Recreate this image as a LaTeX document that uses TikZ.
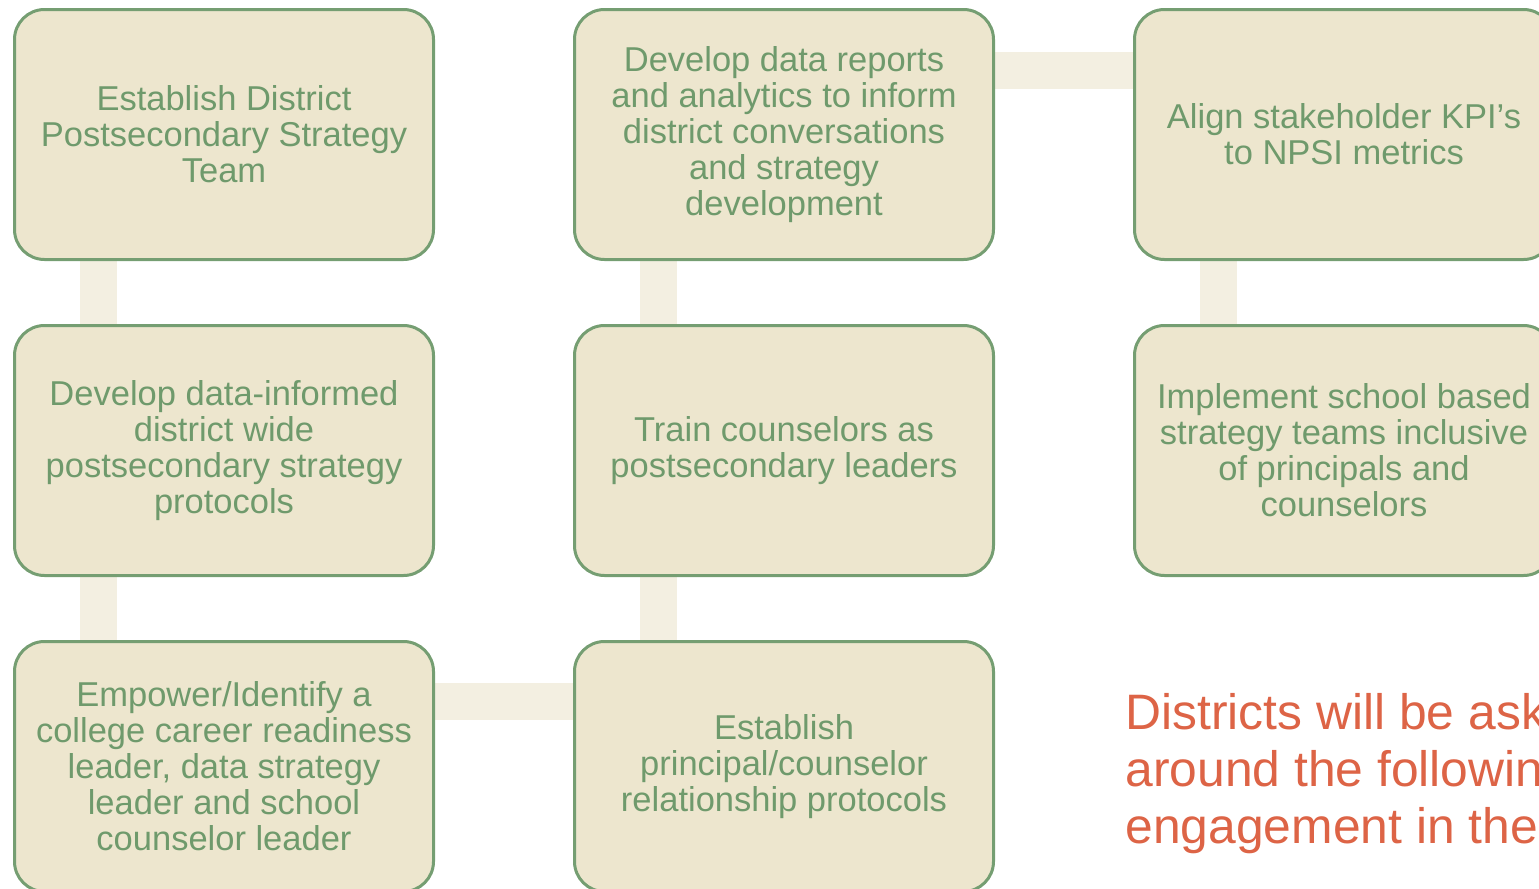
\documentclass[tikz,border=0pt]{standalone}
\usepackage{fontspec}
\setmainfont{Liberation Sans}
\usetikzlibrary{positioning,backgrounds}

\definecolor{boxfill}{RGB}{237,230,206}
\definecolor{boxline}{RGB}{117,158,114}
\definecolor{boxtext}{RGB}{111,154,108}
\definecolor{linkfill}{RGB}{243,239,225}
\definecolor{asktext}{RGB}{221,100,70}

\tikzset{
  stepbox/.style={draw=boxline, line width=1.5pt, fill=boxfill, rounded corners=15pt,
    minimum width=209.5pt, minimum height=125pt, inner sep=0pt, align=center,
    text=boxtext, font=\fontsize{17.25}{18}\selectfont},
  link/.style={draw=linkfill, line width=18.5pt}
}

\begin{document}
\begin{tikzpicture}[node distance={158pt and 280pt},on grid]
\clip (0,0) rectangle (769.5pt,-444.5pt);

\node[stepbox] (team) at (112pt,-67.25pt) {Establish District\\Postsecondary Strategy\\Team};
\node[stepbox] (protocols) [below=of team] {Develop data-informed\\district wide\\postsecondary strategy\\protocols};
\node[stepbox] (leaders) [below=of protocols] {Empower/Identify a\\college career readiness\\leader, data strategy\\leader and school\\counselor leader};
\node[stepbox] (relation) [right=of leaders] {Establish\\principal/counselor\\relationship protocols};
\node[stepbox] (train) [above=of relation] {Train counselors as\\postsecondary leaders};
\node[stepbox] (reports) [above=of train] {Develop data reports\\and analytics to inform\\district conversations\\and strategy\\development};
\node[stepbox] (kpi) [right=of reports] {Align stakeholder KPI’s\\to NPSI metrics};
\node[stepbox] (school) [below=of kpi] {Implement school based\\strategy teams inclusive\\of principals and\\counselors};

\node[anchor=base west, align=left, inner sep=0pt, text=asktext, font=\fontsize{24.9}{28.4}\selectfont]
  (ask) at (562.5pt,-421.5pt) {Districts will be asked to\\around the following\\engagement in the NPSI};

\begin{scope}[on background layer]
\path[link]
([xshift=-63pt]team.center) edge ([xshift=-63pt]protocols.center)
([xshift=-63pt]protocols.center) edge ([xshift=-63pt]leaders.center)
([yshift=32.75pt]leaders.center) edge ([yshift=32.75pt]relation.center)
([xshift=-63pt]relation.center) edge ([xshift=-63pt]train.center)
([xshift=-63pt]train.center) edge ([xshift=-63pt]reports.center)
([yshift=32.25pt]reports.center) edge ([yshift=32.25pt]kpi.center)
([xshift=-63pt]kpi.center) edge ([xshift=-63pt]school.center)
; %end path
\end{scope}
\end{tikzpicture}
\end{document}
